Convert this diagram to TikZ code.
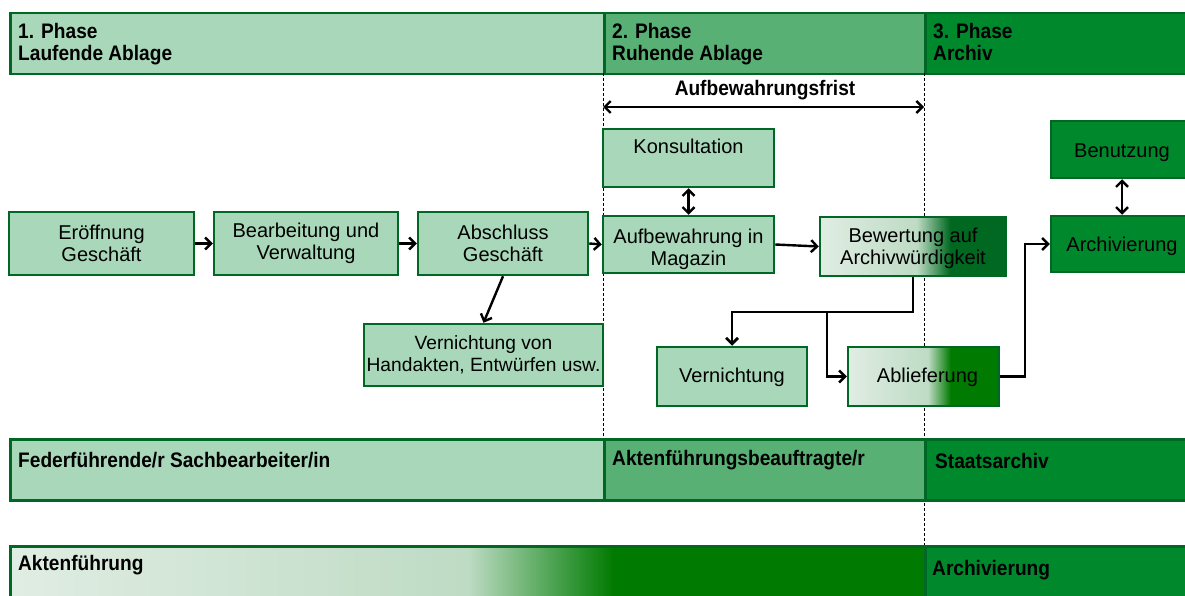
\documentclass[tikz,border=0pt]{standalone}
\usepackage{fontspec}
\setmainfont{Liberation Sans}
\newfontfamily\hdrfont[FakeStretch=0.91]{Liberation Sans}
\usetikzlibrary{arrows.meta,calc}

\definecolor{lightG}{RGB}{168,216,185}
\definecolor{midG}{RGB}{88,176,116}
\definecolor{darkG}{RGB}{0,136,44}
\definecolor{bordG}{RGB}{0,104,36}
\definecolor{gradL}{RGB}{224,237,227}
\definecolor{gradM}{RGB}{190,219,196}
\definecolor{gradT}{RGB}{80,165,85}
\definecolor{gradD}{RGB}{0,122,0}
\definecolor{gradB}{RGB}{0,104,32}

\pgfdeclarehorizontalshading{bewshade}{100bp}{color(0bp)=(gradL); color(25bp)=(gradL); color(51bp)=(gradM); color(60bp)=(gradB); color(100bp)=(gradB)}
\pgfdeclarehorizontalshading{ablshade}{100bp}{color(0bp)=(gradL); color(25bp)=(gradL); color(51.5bp)=(gradM); color(59bp)=(gradD); color(100bp)=(gradD)}
\pgfdeclarehorizontalshading{aktshade}{100bp}{color(0bp)=(gradL); color(25bp)=(gradL); color(50bp)=(gradM); color(54.5bp)=(gradT); color(58bp)=(gradD); color(100bp)=(gradD)}

\tikzset{
  boxbase/.style={draw=bordG, line width=2.5pt, inner sep=0pt, align=center,
    font=\fontsize{20}{22.5}\selectfont},
  box/.style={boxbase, fill=lightG},
  gbox/.style={boxbase, shade, shading=#1},
  dbox/.style={boxbase, fill=darkG},
  bar/.style={draw=bordG, line width=2.5pt, inner sep=0pt, anchor=north west},
  hdr/.style={anchor=base west, inner sep=0pt, font=\hdrfont\bfseries\fontsize{21}{22}\selectfont},
  arr/.style={line width=2.4pt, -{Straight Barb[length=6pt,width=12pt]}},
  darr/.style={line width=2.4pt, {Straight Barb[length=6pt,width=12pt]}-{Straight Barb[length=6pt,width=12pt]}},
  vdash/.style={line width=0.8pt, dash pattern=on 3pt off 2pt},
}

\begin{document}
\begin{tikzpicture}[x=1pt,y=-1pt, line join=miter]
\useasboundingbox (0,0) rectangle (1185,596);
\fill[white] (0,0) rectangle (1185,596);

% phase bars
\node[bar, fill=lightG, minimum width=594pt, minimum height=61pt] (p1) at (9,12) {};
\node[bar, fill=midG, minimum width=321pt, minimum height=61pt] (p2) at (603,12) {};
\node[bar, fill=darkG, minimum width=270pt, minimum height=61pt] (p3) at (924,12) {};
\node[hdr] (p1a) at (18,39) {1. Phase};
\node[hdr] (p1b) at (18,61) {Laufende Ablage};
\node[hdr] (p2a) at (612,39) {2. Phase};
\node[hdr] (p2b) at (612,61) {Ruhende Ablage};
\node[hdr] (p3a) at (933,39) {3. Phase};
\node[hdr] (p3b) at (933,61) {Archiv};

% dashed separators
\coordinate (d1a) at (603,73);
\coordinate (d1b) at (603,438);
\coordinate (d2a) at (924,73);
\coordinate (d2b) at (924,545);
\draw[vdash] (d1a) -- (d1b);
\draw[vdash] (d2a) -- (d2b);

% Aufbewahrungsfrist
\node[hdr, anchor=base] (frist) at (765,96) {Aufbewahrungsfrist};
\coordinate (fa) at (603,107);
\coordinate (fb) at (924,107);
\draw[darr] (fa) -- (fb);

% process boxes
\node[box, minimum width=185pt, minimum height=63pt] (ero) at (101.5,243.5) {Eröffnung\\Geschäft};
\node[box, minimum width=184pt, minimum height=63pt] (bea) at (306,243.5) {Bearbeitung und\\Verwaltung};
\node[box, minimum width=170pt, minimum height=63pt] (abs) at (503,243.5) {Abschluss\\Geschäft};
\node[box, minimum width=239pt, minimum height=62pt, font=\fontsize{19.2}{22.5}\selectfont] (vh) at (483.5,355) {Vernichtung von\\Handakten, Entwürfen usw.};
\node[box, minimum width=171pt, minimum height=58pt] (kon) at (688.5,158) {Konsultation\\\mbox{}};
\node[box, minimum width=171pt, minimum height=57pt] (auf) at (688.5,244.5) {\rule{0pt}{24pt}Aufbewahrung in\\Magazin};
\node[gbox=bewshade, minimum width=186pt, minimum height=59pt] (bew) at (913,246.5) {\rule{0pt}{18pt}Bewertung auf\\Archivwürdigkeit};
\node[box, minimum width=150pt, minimum height=59pt] (ver) at (732,376.5) {\rule{0pt}{17pt}Vernichtung};
\node[gbox=ablshade, minimum width=151pt, minimum height=59pt] (abl) at (923.5,376.5) {\hspace*{8pt}\rule{0pt}{17pt}Ablieferung};
\node[dbox, minimum width=142pt, minimum height=57pt] (ben) at (1122,149.5) {\rule{0pt}{20pt}Benutzung};
\node[dbox, minimum width=142pt, minimum height=56pt] (arc) at (1122,244) {\rule{0pt}{20pt}Archivierung};

% connectors
\draw[arr] (ero.east) -- (bea.west);
\draw[arr] (bea.east) -- (abs.west);
\draw[arr] (abs.east) -- (auf.west);
\draw[arr] (abs.south) -- (vh.north);
\draw[darr] (kon.south) -- (auf.north);
\draw[arr] (auf.east) -- (bew.west);
\coordinate (br) at (827,312);
\draw[arr, line width=2.8pt] (bew.south) |- (br) -| (ver.north);
\draw[arr] (br) |- (abl.west);
\draw[arr] (abl.east) -- ++(25,0) |- (arc.west);
\draw[darr] (ben.south) -- (arc.north);

% role bars
\node[bar, fill=lightG, minimum width=594pt, minimum height=61pt] (f1) at (9,438) {};
\node[bar, fill=midG, minimum width=321pt, minimum height=61pt] (f2) at (603,438) {};
\node[bar, fill=darkG, minimum width=270pt, minimum height=61pt] (f3) at (924,438) {};
\node[hdr] (f1t) at (18,467) {Federführende/r Sachbearbeiter/in};
\node[hdr] (f2t) at (612,465) {Aktenführungsbeauftragte/r};
\node[hdr] (f3t) at (935,468) {Staatsarchiv};

% bottom bars
\node[bar, shade, shading=aktshade, minimum width=915pt, minimum height=60pt] (a1) at (9,545) {};
\node[bar, fill=darkG, minimum width=270pt, minimum height=60pt] (a2) at (924,545) {};
\node[hdr] (a1t) at (18,570) {Aktenführung};
\node[hdr] (a2t) at (932,575) {Archivierung};
\end{tikzpicture}
\end{document}
